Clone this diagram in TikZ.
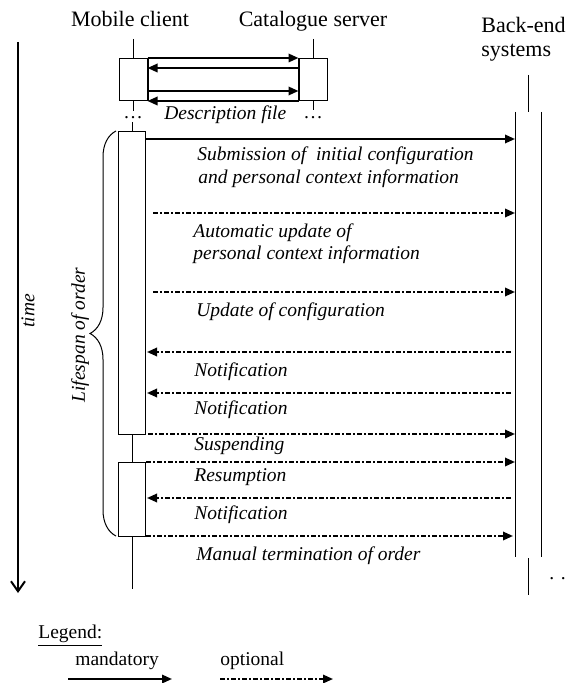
\documentclass[tikz,border=0pt]{standalone}
\usepackage{fontspec}
\setmainfont{Liberation Serif}
\usetikzlibrary{positioning,calc,arrows.meta,decorations.pathreplacing}

\tikzset{
  lifeline/.style={line width=0.5pt},
  actbox/.style={draw, line width=0.5pt, inner sep=0pt, anchor=north},
  mandmsg/.style={line width=1pt, -{Triangle[length=5pt,width=4.2pt]}},
  optmsg/.style={line width=1pt, dash pattern=on 2.6pt off 1.1pt on 0.7pt off 1.1pt, -{Triangle[length=5pt,width=4.2pt]}},
  msglabel/.style={font=\fontsize{9.75}{11.5}\selectfont\itshape, anchor=base west, inner sep=0pt},
  heading/.style={font=\fontsize{11}{13}\selectfont, anchor=base, inner sep=0pt},
  legendtext/.style={font=\fontsize{9.75}{11.5}\selectfont, anchor=base west, inner sep=0pt},
  timeline/.style={line width=1.2pt, -{Straight Barb[length=5pt,width=7pt,line width=1pt]}},
  lifebrace/.style={decorate, decoration={brace, amplitude=13pt}, line width=0.5pt}
}

\begin{document}
\begin{tikzpicture}[x=0.5pt, y=-0.5pt]
    \useasboundingbox (0,0) rectangle (568,683);

    % Headings
    \node[heading] (mobtitle) at (130,27) {Mobile client};
    \node[heading] (cattitle) at (313,27) {Catalogue server};
    \node[heading, anchor=base west] (betitle) at (481,33) {Back-end};
    \node[heading, anchor=base west] (besub) at (481,57) {systems};

    % Activation boxes
    \node[actbox, minimum width=14pt, minimum height=21pt] (mobhs) at (133,58) {};
    \node[actbox, minimum width=14pt, minimum height=21pt] (caths) at (313,58) {};
    \node[actbox, minimum width=13.5pt, minimum height=151.5pt] (order) at (132,131) {};
    \node[actbox, minimum width=13.5pt, minimum height=37pt] (resume) at (132,462) {};

    % Lifelines
    \coordinate (mobtop) at (133,39);
    \coordinate (mobgap1) at (133,111);
    \coordinate (mobgap2) at (132,122);
    \coordinate (mobend) at (132,589);
    \coordinate (cattop) at (313,39);
    \coordinate (catgap) at (313,110);
    \draw[lifeline] (mobtop) -- (mobhs.north);
    \draw[lifeline] (mobhs.south) -- (mobgap1);
    \draw[lifeline] (mobgap2) -- (order.north);
    \draw[lifeline] (order.south) -- (resume.north);
    \draw[lifeline] (resume.south) -- (mobend);
    \draw[lifeline] (cattop) -- (caths.north);
    \draw[lifeline] (caths.south) -- (catgap);

    % Back-end systems
    \coordinate (betop) at (528,75);
    \coordinate (bemid) at (528,112);
    \coordinate (bel) at (515,112);
    \coordinate (ber) at (541,112);
    \coordinate (belend) at (515,557);
    \coordinate (berend) at (541,557);
    \coordinate (bemid2) at (528,558);
    \coordinate (beend) at (528,595);
    \draw[lifeline] (betop) -- (bemid);
    \draw[lifeline] (bel) -- (belend);
    \draw[lifeline] (ber) -- (berend);
    \draw[lifeline] (bemid2) -- (beend);

    % Dots
    \node[legendtext, anchor=base] (mobdots) at (133,119) {\ldots};
    \node[legendtext, anchor=base] (catdots) at (313,119) {\ldots};
    \node[legendtext, anchor=base west] (bedots) at (549,579) {. .};

    % Description file exchange
    \draw[line width=1pt] (mobhs.north east) -- (mobhs.south east);
    \draw[line width=1pt] (caths.north west) -- (caths.south west);
    \draw[mandmsg] (mobhs.north east) -- (caths.north west);
    \draw[mandmsg] ($(caths.north west)+(0,10)$) -- ($(mobhs.north east)+(0,10)$);
    \draw[mandmsg] ($(mobhs.north east)+(0,33)$) -- ($(caths.north west)+(0,33)$);
    \draw[mandmsg] (caths.south west) -- (mobhs.south east);
    \node[msglabel] (desc) at (164,119.5) {Description file};

    % Messages of the order
    \coordinate (r1) at (0,139);
    \coordinate (r2) at (0,213);
    \coordinate (r3) at (0,292);
    \coordinate (r4) at (0,352);
    \coordinate (r5) at (0,393);
    \coordinate (r6) at (0,434);
    \coordinate (r7) at (0,462);
    \coordinate (r8) at (0,498);
    \coordinate (r9) at (0,536);
    \draw[mandmsg] (order.east |- r1) -- (bel |- r1);
    \draw[optmsg] ($(order.east |- r2)+(7,0)$) -- (bel |- r2);
    \draw[optmsg] ($(order.east |- r3)+(7,0)$) -- (bel |- r3);
    \draw[optmsg] ($(bel |- r4)+(-4,0)$) -- ($(order.east |- r4)+(1,0)$);
    \draw[optmsg] ($(bel |- r5)+(-4,0)$) -- ($(order.east |- r5)+(1,0)$);
    \draw[optmsg] ($(order.east |- r6)+(2,0)$) -- (bel |- r6);
    \draw[optmsg] (resume.east |- r7) -- (bel |- r7);
    \draw[optmsg] ($(bel |- r8)+(-4,0)$) -- ($(resume.east |- r8)+(1,0)$);
    \draw[optmsg] (resume.east |- r9) -- ($(bel |- r9)+(-2,0)$);

    % Labels
    \node[msglabel] (submit1) at (197,160.5) {Submission of \ initial configuration};
    \node[msglabel] (submit2) at (198,183.5) {and personal context information};
    \node[msglabel] (auto1) at (193,238) {Automatic update of};
    \node[msglabel] (auto2) at (193,260) {personal context information};
    \node[msglabel] (update) at (196,316.5) {Update of configuration};
    \node[msglabel] (notif1) at (194,376) {Notification};
    \node[msglabel] (notif2) at (194,414.5) {Notification};
    \node[msglabel] (suspend) at (194,450) {Suspending};
    \node[msglabel] (resumption) at (194,481) {Resumption};
    \node[msglabel] (notif3) at (194,519) {Notification};
    \node[msglabel] (manual) at (196,560) {Manual termination of order};

    % Lifespan brace
    \coordinate (bracelow) at (116,536);
    \coordinate (bracehigh) at (116,131);
    \draw[lifebrace] (bracelow) -- (bracehigh);
    \node[msglabel, rotate=90, anchor=center] (lifespan) at (80,335) {Lifespan of order};

    % Time axis
    \coordinate (ttop) at (18,42);
    \coordinate (tend) at (18,593);
    \draw[timeline] (ttop) -- (tend);
    \node[msglabel, rotate=90, anchor=center] (timelabel) at (28,311) {time};

    % Legend
    \node[legendtext] (legend) at (38,638) {\underline{Legend:}};
    \node[legendtext] (mandlabel) at (75,665) {mandatory};
    \node[legendtext] (optlabel) at (220,665) {optional};
    \coordinate (mandstart) at (68,679);
    \coordinate (mandend) at (172,679);
    \coordinate (optstart) at (220,679);
    \coordinate (optend) at (333,679);
    \draw[mandmsg] (mandstart) -- (mandend);
    \draw[optmsg] (optstart) -- (optend);
\end{tikzpicture}
\end{document}
